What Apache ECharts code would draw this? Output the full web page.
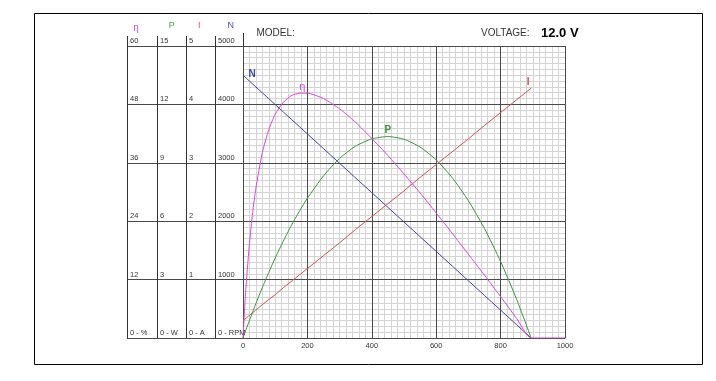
<!DOCTYPE html>
<html>
<head>
<meta charset="utf-8">
<script src="https://cdn.jsdelivr.net/npm/echarts@6/dist/echarts.min.js"></script>
<style>
html,body{margin:0;padding:0;background:#fff;}
#chart{width:716px;height:381px;}
</style>
</head>
<body>
<div id="chart"></div>
<script>
// Torque axis positions (x) of the sampled points
const torque   = [0, 5, 10, 20, 30, 40, 60, 80, 100, 125, 150, 175, 200, 250, 300, 350, 400, 450, 500, 550, 600, 650, 700, 750, 800, 850, 895, 1000];
// Efficiency η (%)
const effPct   = [0, 6.0, 11.1, 19.4, 25.8, 30.8, 38.1, 42.8, 46.0, 48.4, 49.8, 50.3, 50.3, 49.2, 47.1, 44.3, 41.0, 37.5, 33.7, 29.8, 25.7, 21.5, 17.2, 12.9, 8.5, 4.0, 0, 0];
// Output power P (W)
const powerW   = [0, 0.23, 0.46, 0.90, 1.34, 1.77, 2.59, 3.37, 4.11, 4.97, 5.78, 6.51, 7.18, 8.33, 9.23, 9.86, 10.23, 10.35, 10.21, 9.81, 9.15, 8.23, 7.05, 5.62, 3.93, 1.98, 0];
// Current I (A)
const currentA = [0.30, 0.32, 0.34, 0.39, 0.43, 0.48, 0.57, 0.66, 0.74, 0.86, 0.97, 1.08, 1.19, 1.41, 1.63, 1.86, 2.08, 2.30, 2.52, 2.75, 2.97, 3.19, 3.41, 3.64, 3.86, 4.08, 4.28];
// Speed N (RPM)
const speedRpm = [4500, 4475, 4450, 4399, 4349, 4299, 4198, 4098, 3997, 3871, 3746, 3620, 3494, 3243, 2992, 2740, 2489, 2237, 1986, 1735, 1483, 1232, 980, 729, 478, 226, 0];
// Left panel scales and unit labels
const axisMax   = {eta: 60, p: 15, i: 5, n: 5000};
const unitLabel = {eta: '0 - %', p: '0 - W', i: '0 - A', n: '0 - RPM'};
const xMax = 1000, xStep = 200;

const C = {eta: '#dd44dd', p: '#3a953a', i: '#d85050', n: '#4040b0'};
const FONT = 'Liberation Sans';

function pairs(ys) { return ys.map((y, k) => [torque[k], y]); }
function peakIndex(ys) { let m = 0; ys.forEach((v, k) => { if (v > ys[m]) m = k; }); return m; }

const chart = echarts.init(document.getElementById('chart'), null, {renderer: 'canvas'});

const G = {left: 243, top: 46, width: 322, height: 292};
const major = '#4a4a4a', minor = '#d4d4d4';

function labelAxis(key, offset) {
  return {
    type: 'value', gridIndex: 0, position: 'left', offset: offset, z: 3,
    min: 0, max: axisMax[key], interval: axisMax[key] / 5,
    axisLine: {show: true, onZero: false, lineStyle: {color: '#333', width: 1}},
    axisTick: {show: false}, splitLine: {show: false},
    axisLabel: {
      inside: true, margin: 3, align: 'left', verticalAlign: 'bottom',
      color: '#333', fontFamily: FONT, fontSize: 7.5, padding: [0, 0, 1, 0],
      formatter: v => v === 0 ? unitLabel[key] : String(v)
    }
  };
}

function mp(x, y, text, color, pos, dist, off, bold, size) {
  return {
    symbol: 'circle', symbolSize: 1, itemStyle: {color: 'rgba(0,0,0,0)'},
    animation: false, silent: true,
    data: [{coord: [x, y], label: {show: true, formatter: text, position: pos, distance: dist, offset: off,
      color: color, fontFamily: FONT, fontSize: size, fontWeight: bold ? 'bold' : 'normal'}}]
  };
}

const ie = peakIndex(effPct), ip = peakIndex(powerW);
const last = currentA.length - 1;

const option = {
  animation: false,
  backgroundColor: '#fff',
  grid: [
    {left: G.left, top: G.top, width: G.width, height: G.height, containLabel: false},
    {left: 127, top: G.top, width: G.left - 127, height: G.height, containLabel: false}
  ],
  xAxis: [
    { // minor grid + labels
      type: 'value', gridIndex: 0, position: 'bottom', min: 0, max: xMax, interval: xStep, z: 0,
      axisLine: {show: false, onZero: false},
      axisTick: {show: false},
      axisLabel: {color: '#333', fontFamily: FONT, fontSize: 7.5, margin: 4, showMaxLabel: true, showMinLabel: true,
        formatter: v => String(v)},
      splitLine: {show: false},
      minorTick: {show: false, splitNumber: 10},
      minorSplitLine: {show: true, lineStyle: {color: minor, width: 1}}
    },
    {type: 'value', gridIndex: 1, min: 0, max: 1, show: false, axisLine: {onZero: false}},
    { // major grid
      type: 'value', gridIndex: 0, position: 'bottom', min: 0, max: xMax, interval: xStep, z: 1,
      axisLine: {show: true, onZero: false, lineStyle: {color: major}},
      axisTick: {show: false}, axisLabel: {show: false},
      splitLine: {show: true, lineStyle: {color: major, width: 1}}
    }
  ],
  yAxis: [
    { // minor grid (N scale)
      type: 'value', gridIndex: 0, position: 'left', min: 0, max: axisMax.n, interval: axisMax.n / 5, z: 0,
      axisLine: {show: false, onZero: false},
      axisTick: {show: false}, axisLabel: {show: false},
      splitLine: {show: false},
      minorTick: {show: false, splitNumber: 10},
      minorSplitLine: {show: true, lineStyle: {color: minor, width: 1}}
    },
    labelAxis('eta', 116),
    labelAxis('p', 86),
    labelAxis('i', 57),
    labelAxis('n', 28),
    {
      type: 'value', gridIndex: 1, position: 'left', min: 0, max: axisMax.n, interval: axisMax.n / 5,
      axisLine: {show: false, onZero: false}, axisTick: {show: false}, axisLabel: {show: false},
      splitLine: {show: true, lineStyle: {color: major, width: 1}}
    },
    { // major grid
      type: 'value', gridIndex: 0, position: 'left', min: 0, max: axisMax.n, interval: axisMax.n / 5, z: 1,
      axisLine: {show: true, onZero: false, lineStyle: {color: major}},
      axisTick: {show: false}, axisLabel: {show: false},
      splitLine: {show: true, lineStyle: {color: major, width: 1}}
    }
  ],
  series: [
    {type: 'line', name: 'N', xAxisIndex: 0, yAxisIndex: 4, data: pairs(speedRpm), showSymbol: false, z: 4,
      lineStyle: {color: C.n, width: 1}, itemStyle: {color: C.n},
      markPoint: mp(torque[0], speedRpm[0], 'N', C.n, 'right', 5, [0, -1], true, 10)},
    {type: 'line', name: 'I', xAxisIndex: 0, yAxisIndex: 3, data: pairs(currentA), showSymbol: false, z: 4,
      lineStyle: {color: C.i, width: 1}, itemStyle: {color: C.i},
      markPoint: mp(torque[last], currentA[last], 'I', C.i, 'top', 0, [-3, 0], true, 10)},
    {type: 'line', name: 'P', xAxisIndex: 0, yAxisIndex: 2, data: pairs(powerW), showSymbol: false, smooth: 0.2, z: 4,
      lineStyle: {color: C.p, width: 1}, itemStyle: {color: C.p},
      markPoint: mp(torque[ip], powerW[ip], 'P', C.p, 'top', 1, [0, 0], true, 10)},
    {type: 'line', name: 'η', xAxisIndex: 0, yAxisIndex: 1, data: pairs(effPct), showSymbol: false, smooth: 0.2, z: 4,
      lineStyle: {color: C.eta, width: 1}, itemStyle: {color: C.eta},
      markPoint: mp(torque[ie], effPct[ie], 'η', C.eta, 'top', 0, [3, 0], false, 11)}
  ],
  graphic: [
    {type: 'rect', shape: {x: 34.5, y: 13.5, width: 668, height: 351}, style: {fill: 'none', stroke: '#000', lineWidth: 1}, silent: true},
    {type: 'line', shape: {x1: 127.5, y1: 36, x2: 127.5, y2: 46}, style: {stroke: '#333', lineWidth: 1}},
    {type: 'line', shape: {x1: 157.5, y1: 36, x2: 157.5, y2: 46}, style: {stroke: '#333', lineWidth: 1}},
    {type: 'line', shape: {x1: 186.5, y1: 36, x2: 186.5, y2: 46}, style: {stroke: '#333', lineWidth: 1}},
    {type: 'line', shape: {x1: 215.5, y1: 36, x2: 215.5, y2: 46}, style: {stroke: '#333', lineWidth: 1}},
    {type: 'line', shape: {x1: 243.5, y1: 33, x2: 243.5, y2: 46}, style: {stroke: '#333', lineWidth: 1}},
    {type: 'text', style: {text: 'η', x: 136, y: 28, fill: C.eta, font: '10px ' + FONT, textAlign: 'center', textVerticalAlign: 'middle'}},
    {type: 'text', style: {text: 'P', x: 171.7, y: 26, fill: '#44a044', font: '9px ' + FONT, textAlign: 'center', textVerticalAlign: 'middle'}},
    {type: 'text', style: {text: 'I', x: 199.3, y: 26, fill: '#e05050', font: '9px ' + FONT, textAlign: 'center', textVerticalAlign: 'middle'}},
    {type: 'text', style: {text: 'N', x: 230.7, y: 26, fill: '#4a4ac8', font: '9px ' + FONT, textAlign: 'center', textVerticalAlign: 'middle'}},
    {type: 'text', style: {text: 'MODEL:', x: 256.5, y: 33.5, fill: '#333', font: '10px ' + FONT, textAlign: 'left', textVerticalAlign: 'middle'}},
    {type: 'text', style: {text: 'VOLTAGE:', x: 481, y: 33.5, fill: '#333', font: '10px ' + FONT, textAlign: 'left', textVerticalAlign: 'middle'}},
    {type: 'text', style: {text: '12.0 V', x: 541, y: 33.5, fill: '#000', font: 'bold 13px ' + FONT, textAlign: 'left', textVerticalAlign: 'middle'}}
  ]
};
chart.setOption(option);
</script>
</body>
</html>
